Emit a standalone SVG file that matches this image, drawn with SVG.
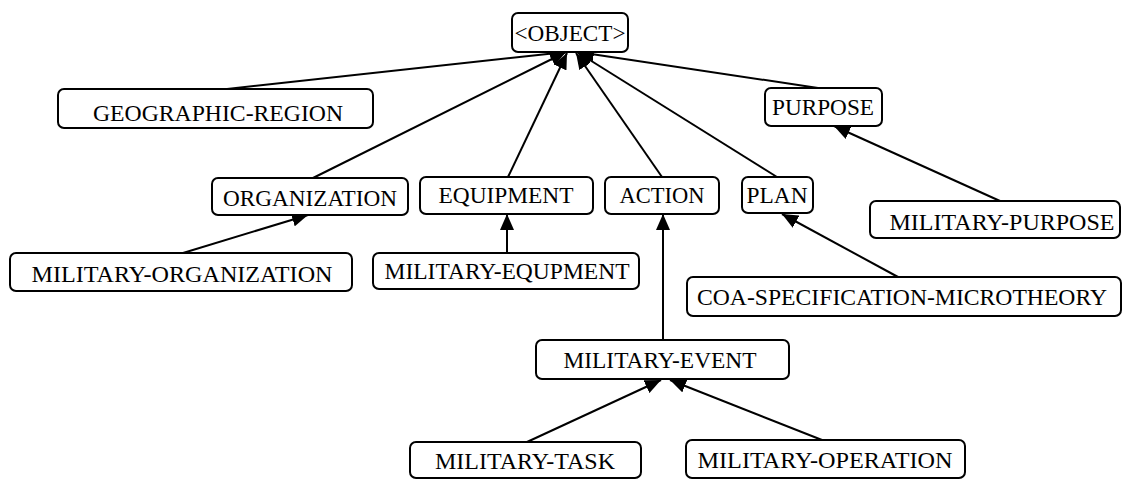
<svg xmlns="http://www.w3.org/2000/svg" width="1127" height="479" viewBox="0 0 1127 479">
<style>
.box{fill:#fff;stroke:#000;stroke-width:2}
.lbl{font-family:"Liberation Serif","Times New Roman","DejaVu Serif",serif;font-size:24px;fill:#000;text-anchor:middle}
.edge{stroke:#000;stroke-width:2;fill:none;marker-end:url(#ah)}
</style>
<defs>
<marker id="ah" viewBox="0 0 16 14" markerWidth="16" markerHeight="14" refX="16" refY="7" orient="auto" markerUnits="userSpaceOnUse">
<path d="M0,0 L16,7 L0,14 z" fill="#000"/>
</marker>
</defs>
<rect width="1127" height="479" fill="#fff"/>
<g id="connectors">
<line class="edge" x1="227" y1="89" x2="566" y2="52"/>
<line class="edge" x1="313" y1="178" x2="566" y2="52"/>
<line class="edge" x1="508" y1="177" x2="567" y2="53"/>
<line class="edge" x1="662" y1="177" x2="576" y2="53"/>
<line class="edge" x1="777" y1="177" x2="577" y2="52"/>
<line class="edge" x1="818" y1="88" x2="578" y2="52"/>
<line class="edge" x1="183" y1="253" x2="308" y2="215"/>
<line class="edge" x1="507" y1="253" x2="507" y2="214"/>
<line class="edge" x1="663" y1="340" x2="663" y2="214"/>
<line class="edge" x1="898" y1="277" x2="782" y2="214"/>
<line class="edge" x1="1000" y1="201" x2="834" y2="126"/>
<line class="edge" x1="527" y1="442" x2="661" y2="380"/>
<line class="edge" x1="822" y1="440" x2="670" y2="380"/>
</g>
<g id="object"><rect class="box" x="512" y="13" width="116" height="39" rx="6"/><text class="lbl" x="570" y="41" textLength="111" lengthAdjust="spacingAndGlyphs">&lt;OBJECT&gt;</text></g>
<g id="geographic-region"><rect class="box" x="58" y="89" width="315" height="39" rx="6"/><text class="lbl" x="218" y="121" textLength="250" lengthAdjust="spacingAndGlyphs">GEOGRAPHIC-REGION</text></g>
<g id="purpose"><rect class="box" x="765" y="88" width="117" height="38" rx="6"/><text class="lbl" x="823" y="115" textLength="102" lengthAdjust="spacingAndGlyphs">PURPOSE</text></g>
<g id="organization"><rect class="box" x="212" y="178" width="196" height="37" rx="6"/><text class="lbl" x="310" y="206" textLength="174" lengthAdjust="spacingAndGlyphs">ORGANIZATION</text></g>
<g id="equipment"><rect class="box" x="420" y="177" width="173" height="37" rx="6"/><text class="lbl" x="506" y="203" textLength="135" lengthAdjust="spacingAndGlyphs">EQUIPMENT</text></g>
<g id="action"><rect class="box" x="605" y="177" width="114" height="37" rx="6"/><text class="lbl" x="662" y="203" textLength="85" lengthAdjust="spacingAndGlyphs">ACTION</text></g>
<g id="plan"><rect class="box" x="742" y="177" width="71" height="36" rx="6"/><text class="lbl" x="777" y="203" textLength="61" lengthAdjust="spacingAndGlyphs">PLAN</text></g>
<g id="military-purpose"><rect class="box" x="870" y="201" width="250" height="37" rx="6"/><text class="lbl" x="1002" y="230" textLength="225" lengthAdjust="spacingAndGlyphs">MILITARY-PURPOSE</text></g>
<g id="military-organization"><rect class="box" x="10" y="253" width="342" height="38" rx="6"/><text class="lbl" x="182" y="282" textLength="301" lengthAdjust="spacingAndGlyphs">MILITARY-ORGANIZATION</text></g>
<g id="military-equipment"><rect class="box" x="373" y="253" width="266" height="36" rx="6"/><text class="lbl" x="507" y="279" textLength="245" lengthAdjust="spacingAndGlyphs">MILITARY-EQUPMENT</text></g>
<g id="coa-specification-microtheory"><rect class="box" x="687" y="277" width="434" height="39" rx="6"/><text class="lbl" x="902" y="305" textLength="410" lengthAdjust="spacingAndGlyphs">COA-SPECIFICATION-MICROTHEORY</text></g>
<g id="military-event"><rect class="box" x="536" y="340" width="253" height="39" rx="6"/><text class="lbl" x="660" y="368" textLength="193" lengthAdjust="spacingAndGlyphs">MILITARY-EVENT</text></g>
<g id="military-task"><rect class="box" x="410" y="442" width="231" height="36" rx="6"/><text class="lbl" x="525" y="469" textLength="180" lengthAdjust="spacingAndGlyphs">MILITARY-TASK</text></g>
<g id="military-operation"><rect class="box" x="686" y="440" width="279" height="38" rx="6"/><text class="lbl" x="825" y="468" textLength="255" lengthAdjust="spacingAndGlyphs">MILITARY-OPERATION</text></g>
</svg>
